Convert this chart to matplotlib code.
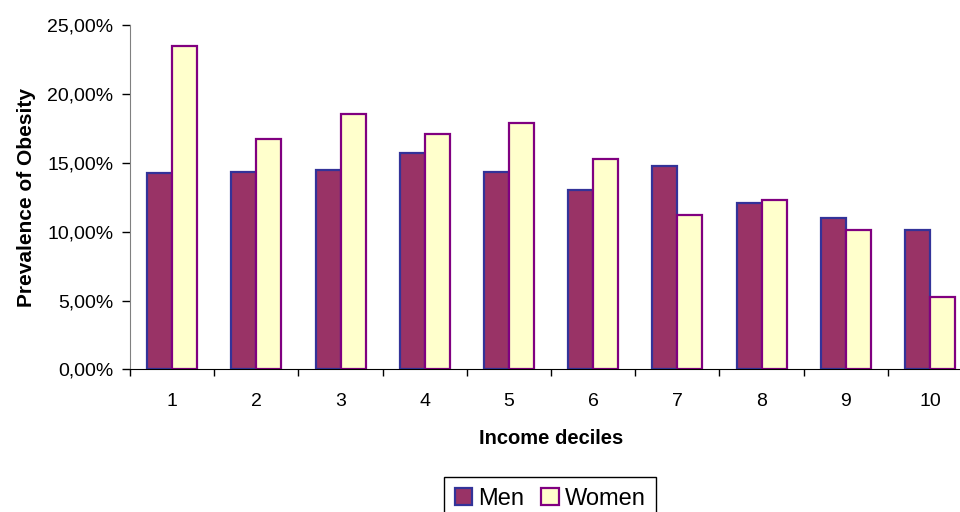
import numpy as np
import matplotlib.pyplot as plt
from matplotlib.ticker import FuncFormatter

plt.rcParams['font.family'] = ['Liberation Sans', 'DejaVu Sans']

deciles = ['1', '2', '3', '4', '5', '6', '7', '8', '9', '10']
men = [14.3, 14.36, 14.5, 15.7, 14.36, 13.05, 14.77, 12.06, 10.97, 10.15]
women = [23.5, 16.76, 18.55, 17.08, 17.9, 15.26, 11.19, 12.28, 10.1, 5.25]

fig = plt.figure(figsize=(9.6, 5.12), dpi=100)
# axes run a bit past the right edge of the figure
ax = fig.add_axes([130 / 960, 1 - 369.3 / 512, 842 / 960, 344 / 512])

x = np.arange(1, len(deciles) + 1)
w = 25 / 84.2
ax.bar(x - w / 2, men, w, color='#993366', edgecolor='#333399', linewidth=1.6, label='Men')
ax.bar(x + w / 2, women, w, color='#FFFFCC', edgecolor='#800080', linewidth=1.6, label='Women')

ax.set_xlim(0.5, 10.5)
ax.set_ylim(0, 25)
ax.set_yticks(np.arange(0, 26, 5))
ax.yaxis.set_major_formatter(FuncFormatter(lambda v, p: ('%.2f%%' % v).replace('.', ',')))
ax.set_xticks(x)
ax.set_xticklabels(deciles)
ax.set_xticks(np.arange(0.5, 11, 1), minor=True)
ax.tick_params(axis='x', which='major', length=0, pad=17, labelsize=14)
ax.tick_params(axis='x', which='minor', length=5, width=1, color='black')
ax.tick_params(axis='y', length=6, width=1, labelsize=14, pad=6)

for s in ['top', 'right']:
    ax.spines[s].set_visible(False)
ax.spines['left'].set_color('#808080')
ax.spines['bottom'].set_color('black')

ax.set_xlabel('Income deciles', fontsize=14.5, fontweight='bold', labelpad=14)
ax.set_ylabel('Prevalence of Obesity', fontsize=15, fontweight='bold', labelpad=8)

fig.legend(loc='upper center', bbox_to_anchor=(550 / 960, 1 - 477 / 512), ncol=2,
           fontsize=17, frameon=True, fancybox=False, edgecolor='black', framealpha=1,
           handlelength=0.75, handleheight=0.75, handletextpad=0.25, columnspacing=0.7,
           borderpad=0.45, borderaxespad=0)

fig.savefig('out.png', dpi=100)
